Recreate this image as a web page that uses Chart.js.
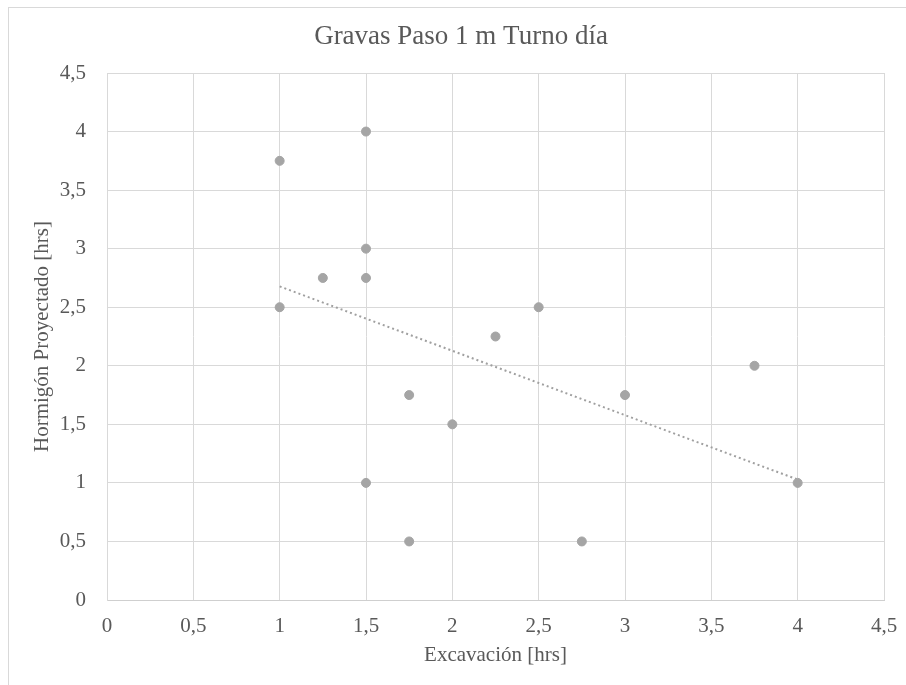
<!DOCTYPE html>
<html>
<head>
<meta charset="utf-8">
<title>Gravas Paso 1 m Turno día</title>
<script src="https://cdn.jsdelivr.net/npm/chart.js@4"></script>
<style>
    html, body { margin: 0; padding: 0; background: #fff; overflow: hidden; }
    canvas { display: block; }
</style>
</head>
<body>
<canvas id="scatterChart" width="906" height="685"></canvas>
<script>
// Tiempos por ciclo (horas)
var excavacion = [1, 1, 1.25, 1.5, 1.5, 1.5, 1.5, 1.75, 1.75, 2, 2.25, 2.5, 2.75, 3, 3.75, 4];
var hormigon = [3.75, 2.5, 2.75, 4, 3, 2.75, 1, 1.75, 0.5, 1.5, 2.25, 2.5, 0.5, 1.75, 2, 1];
var xTicks = [0, 0.5, 1, 1.5, 2, 2.5, 3, 3.5, 4, 4.5];
var yTicks = [0, 0.5, 1, 1.5, 2, 2.5, 3, 3.5, 4, 4.5];

var serif = "'Liberation Serif', 'Times New Roman', serif";
var textColor = '#595959';
var gridColor = '#d9d9d9';

// Línea de tendencia lineal (mínimos cuadrados)
function tendencia(xs, ys) {
    var n = xs.length, mx = 0, my = 0, sxy = 0, sxx = 0;
    for (var i = 0; i < n; i++) { mx += xs[i]; my += ys[i]; }
    mx /= n; my /= n;
    for (var j = 0; j < n; j++) {
        sxy += (xs[j] - mx) * (ys[j] - my);
        sxx += (xs[j] - mx) * (xs[j] - mx);
    }
    var m = sxy / sxx, b = my - m * mx;
    var x0 = Math.min.apply(null, xs), x1 = Math.max.apply(null, xs);
    return [{ x: x0, y: m * x0 + b }, { x: x1, y: m * x1 + b }];
}

var puntos = excavacion.map(function (x, i) { return { x: x, y: hormigon[i] }; });

function coma(value) {
    return String(value).replace('.', ',');
}

// Marco exterior y título
var marco = {
    id: 'marco',
    beforeDraw: function (chart) {
        var ctx = chart.ctx;
        ctx.save();
        ctx.strokeStyle = gridColor;
        ctx.lineWidth = 1;
        ctx.strokeRect(8.5, 7.5, 1000, 1000);
        ctx.restore();
    },
    afterDraw: function (chart) {
        var ctx = chart.ctx;
        ctx.save();
        ctx.fillStyle = textColor;
        ctx.font = '27px ' + serif;
        ctx.textAlign = 'center';
        ctx.textBaseline = 'middle';
        ctx.fillText('Gravas Paso 1 m Turno día', 461, 37);
        ctx.restore();
    }
};

new Chart(document.getElementById('scatterChart'), {
    type: 'scatter',
    data: {
        datasets: [{
            label: 'Hormigón Proyectado',
            data: puntos,
            backgroundColor: '#a5a5a5',
            borderColor: '#a5a5a5',
            pointRadius: 4.5,
            pointHoverRadius: 4.5,
            order: 1
        }, {
            type: 'line',
            label: 'Lineal',
            data: tendencia(excavacion, hormigon),
            borderColor: '#a0a0a0',
            borderWidth: 2,
            borderDash: [2, 3],
            pointRadius: 0,
            fill: false,
            order: 2
        }]
    },
    options: {
        responsive: false,
        animation: false,
        devicePixelRatio: 1,
        layout: {
            padding: { left: 16, right: 22, top: 73, bottom: 0 }
        },
        plugins: {
            legend: { display: false },
            title: { display: false },
            tooltip: { enabled: false }
        },
        scales: {
            x: {
                type: 'linear',
                min: 0,
                max: 4.5,
                afterBuildTicks: function (scale) {
                    scale.ticks = xTicks.map(function (v) { return { value: v }; });
                },
                afterFit: function (scale) {
                    scale.height = 85;
                    scale.paddingLeft = 0;
                    scale.paddingRight = 0;
                },
                grid: { color: gridColor, drawTicks: false },
                border: { color: '#cfcfcf' },
                ticks: {
                    padding: 14,
                    color: textColor,
                    font: { family: serif, size: 21 },
                    maxRotation: 0,
                    callback: coma
                },
                title: {
                    display: true,
                    text: 'Excavación [hrs]',
                    color: textColor,
                    font: { family: serif, size: 21 },
                    padding: { top: 0, bottom: 17 }
                }
            },
            y: {
                type: 'linear',
                min: 0,
                max: 4.5,
                afterBuildTicks: function (scale) {
                    scale.ticks = yTicks.map(function (v) { return { value: v }; });
                },
                afterFit: function (scale) { scale.width = 91; },
                grid: { color: gridColor, drawTicks: false },
                border: { color: gridColor },
                ticks: {
                    padding: 21,
                    color: textColor,
                    font: { family: serif, size: 21 },
                    callback: coma
                },
                title: {
                    display: true,
                    text: 'Hormigón Proyectado [hrs]',
                    color: textColor,
                    font: { family: serif, size: 21 },
                    padding: { top: 14, bottom: 0 }
                }
            }
        }
    },
    plugins: [marco]
});
</script>
</body>
</html>
